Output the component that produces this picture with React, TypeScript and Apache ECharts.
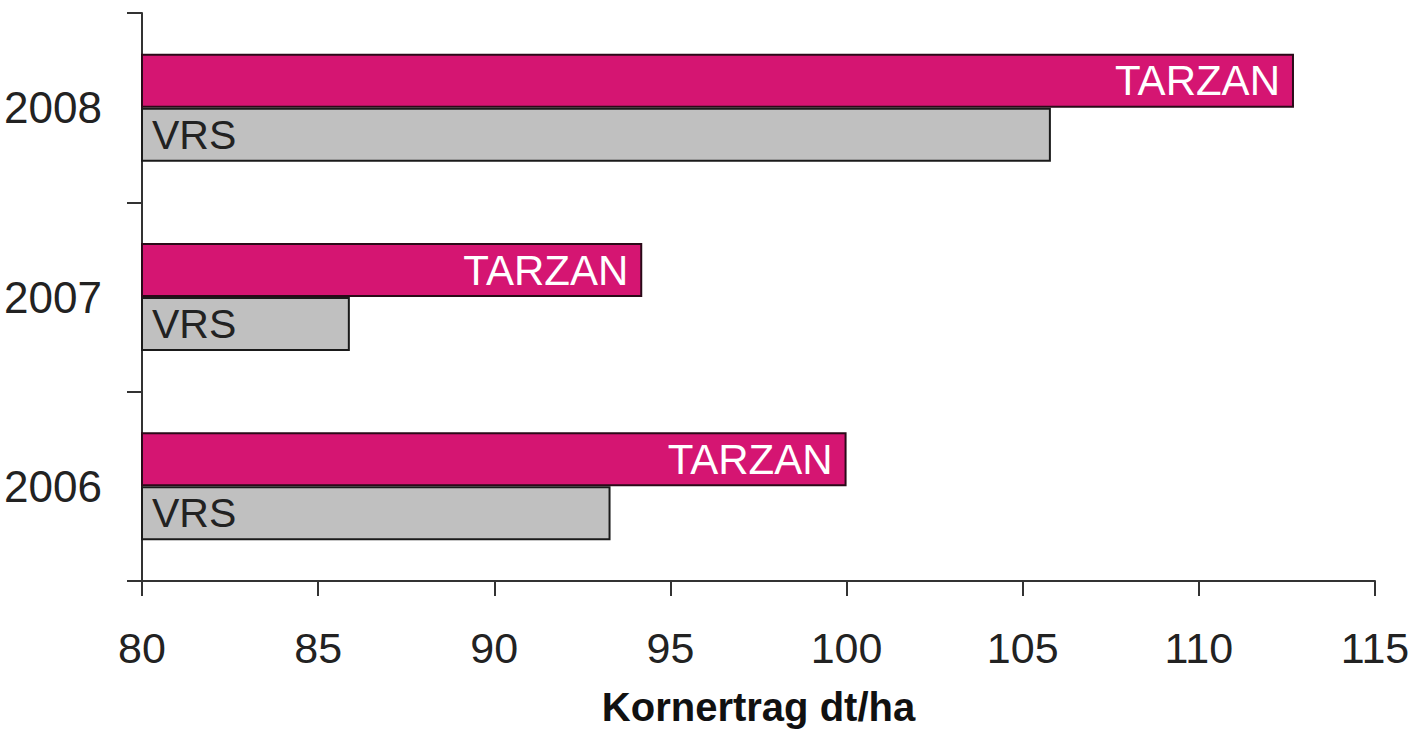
import React, { useEffect, useRef } from "react";
import * as echarts from "echarts";

const years = ["2006", "2007", "2008"];
const tarzan = [100.0, 94.2, 112.7];
const vrs = [93.3, 85.9, 105.8];
const xMin = 80;
const xMax = 115;
const xStep = 5;
const seriesNames = ["TARZAN", "VRS"];
const axisTitle = "Kornertrag dt/ha";

export default function App() {
  const ref = useRef<HTMLDivElement>(null);
  useEffect(() => {
    document.body.style.margin = "0";
    const chart = echarts.init(ref.current!, undefined, { renderer: "svg" });
    const font = "'Liberation Sans', Arial, sans-serif";
    chart.setOption({
      animation: false,
      backgroundColor: "#ffffff",
      textStyle: { fontFamily: font },
      grid: { left: 142, right: 52, top: 13, bottom: 152 },
      xAxis: {
        type: "value",
        min: xMin,
        max: xMax,
        interval: xStep,
        splitLine: { show: false },
        axisLine: { show: true, lineStyle: { color: "#333", width: 2 } },
        axisTick: { show: true, length: 15, lineStyle: { color: "#333", width: 2 } },
        axisLabel: { fontSize: 43, color: "#222", margin: 45, fontFamily: font },
        name: axisTitle,
        nameLocation: "middle",
        nameGap: 106,
        nameTextStyle: { fontSize: 40, fontWeight: "bold", color: "#111", fontFamily: font, verticalAlign: "top" },
      },
      yAxis: {
        type: "category",
        data: years,
        axisLine: { show: true, lineStyle: { color: "#333", width: 2 } },
        axisTick: { show: true, length: 15, lineStyle: { color: "#333", width: 2 } },
        axisLabel: { fontSize: 44, color: "#222", margin: 40, fontFamily: font },
      },
      series: [
        {
          name: seriesNames[0],
          type: "bar",
          data: tarzan,
          barWidth: 54,
          barGap: "0%",
          itemStyle: { color: "#d51572", borderColor: "#2a0a18", borderWidth: 2 },
          label: {
            show: true,
            position: "insideRight",
            distance: 14,
            formatter: seriesNames[0],
            color: "#ffffff",
            fontSize: 42,
            fontFamily: font,
          },
        },
        {
          name: seriesNames[1],
          type: "bar",
          data: vrs,
          barWidth: 54,
          barGap: "0%",
          itemStyle: { color: "#c0c0c0", borderColor: "#1a1a1a", borderWidth: 2 },
          label: {
            show: true,
            position: "insideLeft",
            distance: 11,
            formatter: seriesNames[1],
            color: "#222",
            fontSize: 41,
            fontFamily: font,
          },
        },
      ],
    });
    return () => chart.dispose();
  }, []);
  return <div ref={ref} style={{ width: 1427, height: 733 }} />;
}
